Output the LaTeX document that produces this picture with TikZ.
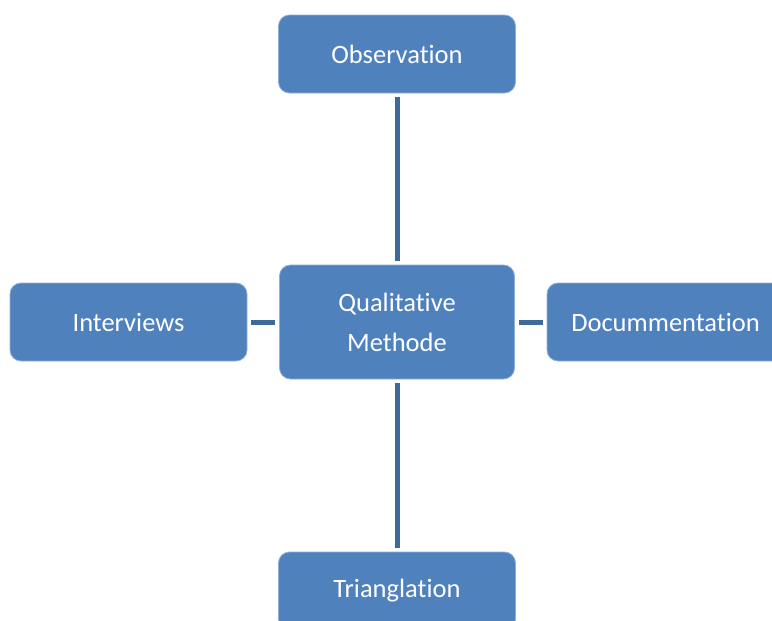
\documentclass[tikz,border=0pt]{standalone}
\usepackage{fontspec}
\setmainfont[Ligatures=NoCommon]{Carlito}
\definecolor{boxfill}{HTML}{4F81BD}
\definecolor{boxedge}{HTML}{8FB0D8}
\definecolor{linkcol}{HTML}{3E6A9B}
\tikzset{
  mbox/.style={rectangle, rounded corners=11pt, fill=boxfill, draw=boxedge, line width=0.8pt,
    text=white, font=\fontsize{26.5}{40}\selectfont, align=center, inner sep=0pt,
    minimum width=237pt, minimum height=78pt},
  link/.style={draw=linkcol, line width=5pt, shorten <=4pt, shorten >=4pt}
}
\begin{document}
\begin{tikzpicture}[x=1pt,y=-1pt]
\useasboundingbox (0,0) rectangle (772,621);
\clip (0,0) rectangle (772,621);
\node[mbox] (obs) at (397,54) {Observation};
\node[mbox, minimum width=235pt, minimum height=114pt] (qm) at (397,322) {Qualitative\\Methode};
\node[mbox] (int) at (128.5,322) {Interviews};
\node[mbox] (doc) at (665.5,322) {Docummentation};
\node[mbox] (tri) at (397,591) {Trianglation};
\draw[link] (obs) -- (qm);
\draw[link] (qm) -- (tri);
\draw[link] (int) -- (qm);
\draw[link] (qm) -- (doc);
\end{tikzpicture}
\end{document}
